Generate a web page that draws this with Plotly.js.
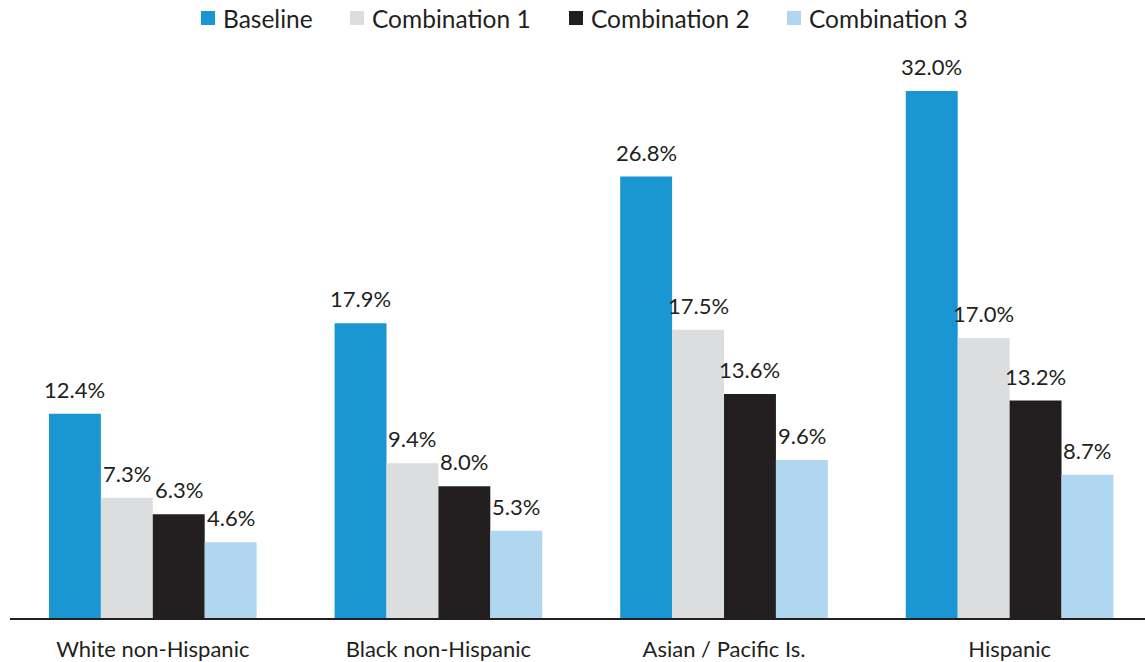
<!DOCTYPE html>
<html>
<head>
<meta charset="utf-8">
<script src="https://cdn.plot.ly/plotly-3.0.1.min.js"></script>
<style>
  html, body { margin: 0; padding: 0; background: #ffffff; }
  #chart { width: 1145px; height: 662px; }
</style>
</head>
<body>
<div id="chart"></div>
<script>
// Groups along the x axis
const categories = ["White non-Hispanic", "Black non-Hispanic", "Asian / Pacific Is.", "Hispanic"];

// Series names and values (percent)
const seriesNames = ["Baseline", "Combination 1", "Combination 2", "Combination 3"];
const baseline     = [12.4, 17.9, 26.8, 32.0];
const combination1 = [7.3, 9.4, 17.5, 17.0];
const combination2 = [6.3, 8.0, 13.6, 13.2];
const combination3 = [4.6, 5.3, 9.6, 8.7];
const seriesValues = [baseline, combination1, combination2, combination3];

const seriesColors = ["#1a96d3", "#dcdddf", "#231f20", "#b1d6ef"];
const textColor = "#231f20";
const fontFamily = "Lato, 'Open Sans', sans-serif";

// Figure geometry
const W = 1145, H = 662;
const margin = { l: 10, r: 0, t: 58, b: 44 };
const plotW = W - margin.l - margin.r;
const plotH = H - margin.t - margin.b;
const pxToPaperX = px => (px - margin.l) / plotW;
const pxToPaperY = py => (H - margin.b - py) / plotH;

const bargap = 0.273;
const groupWidth = 1 - bargap;
const barWidth = groupWidth / seriesNames.length;

const traces = seriesNames.map((name, s) => ({
  type: "bar",
  name: name,
  x: categories,
  y: seriesValues[s],
  marker: { color: seriesColors[s], line: { width: 0 } },
  hoverinfo: "skip",
  showlegend: false
}));

// Value labels above each bar, placed at the bar's centre on the category axis
const annotations = [];
seriesValues.forEach((vals, s) => {
  const offset = (s - (seriesNames.length - 1) / 2) * barWidth;
  vals.forEach((v, i) => {
    annotations.push({
      x: i + offset,
      y: v,
      xref: "x",
      yref: "y",
      text: v.toFixed(1) + "%",
      showarrow: false,
      xanchor: "center",
      yanchor: "bottom",
      yshift: 9,
      font: { family: fontFamily, size: 22, color: textColor }
    });
  });
});

// Legend row across the top: a colour square followed by the series name
const legendItemLeft = [201, 350, 569, 787];   // px from the left edge
const legendSquare = 14;
const legendCenterY = 18;
const shapes = [];
seriesNames.forEach((name, s) => {
  const x0 = legendItemLeft[s];
  shapes.push({
    type: "rect",
    xref: "paper", yref: "paper",
    x0: pxToPaperX(x0), x1: pxToPaperX(x0 + legendSquare),
    y0: pxToPaperY(legendCenterY + legendSquare / 2),
    y1: pxToPaperY(legendCenterY - legendSquare / 2),
    fillcolor: seriesColors[s],
    line: { width: 0 }
  });
  annotations.push({
    xref: "paper", yref: "paper",
    x: pxToPaperX(x0 + legendSquare + 6),
    y: pxToPaperY(legendCenterY),
    xanchor: "left",
    yanchor: "middle",
    text: name,
    showarrow: false,
    font: { family: fontFamily, size: 24.5, color: textColor }
  });
});

const layout = {
  width: W,
  height: H,
  margin: margin,
  paper_bgcolor: "#ffffff",
  plot_bgcolor: "#ffffff",
  barmode: "group",
  bargap: bargap,
  bargroupgap: 0,
  font: { family: fontFamily, color: textColor },
  showlegend: false,
  xaxis: {
    type: "category",
    range: [-0.5, 3.474],
    showline: true,
    linecolor: textColor,
    linewidth: 2,
    showgrid: false,
    zeroline: false,
    ticks: "",
    ticklabelstandoff: 11,
    tickfont: { family: fontFamily, size: 22, color: textColor },
    fixedrange: true
  },
  yaxis: {
    range: [0, 34],
    showline: false,
    showgrid: false,
    zeroline: false,
    showticklabels: false,
    ticks: "",
    fixedrange: true
  },
  shapes: shapes,
  annotations: annotations
};

Plotly.newPlot("chart", traces, layout, { displayModeBar: false, staticPlot: true });
</script>
</body>
</html>
